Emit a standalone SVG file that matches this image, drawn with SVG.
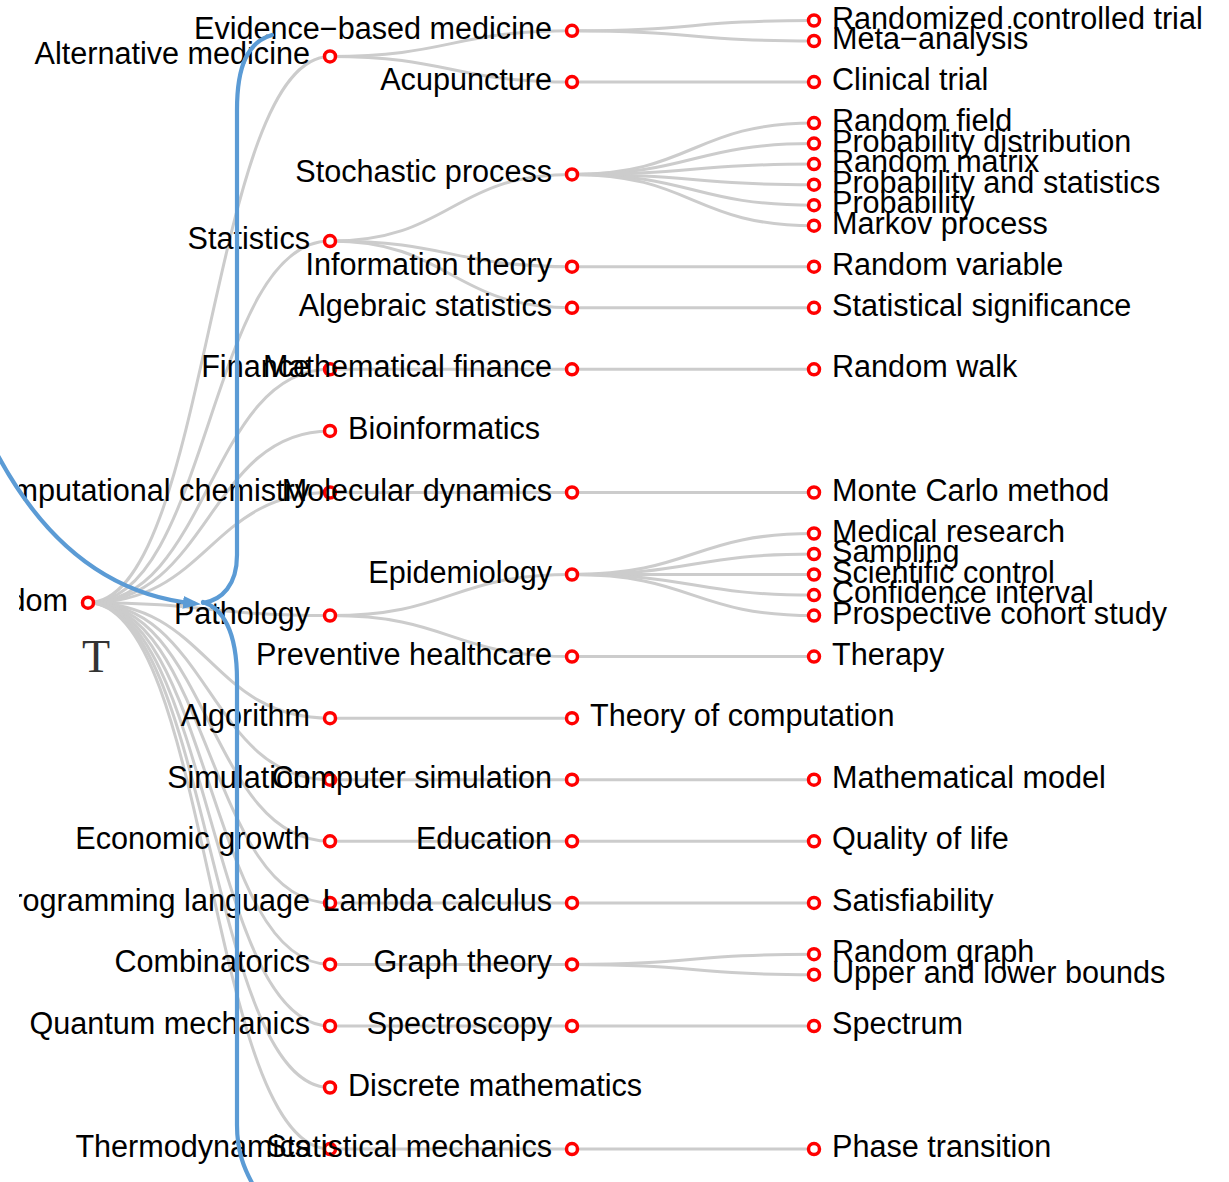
<svg xmlns="http://www.w3.org/2000/svg" width="1229" height="1182" viewBox="0 0 1229 1182">
<style>
.link{fill:none;stroke:#cccccc;stroke-width:3}
.node circle{fill:#ffffff;stroke:#ff0000;stroke-width:3.5}
.node text{font-family:"Liberation Sans",Arial,sans-serif;font-size:30.6px;fill:#000}
.node .l{text-anchor:end}
.node .r{text-anchor:start}
.note{fill:none;stroke:#5b9bd5;stroke-width:4.2;stroke-linecap:round}
</style>
<defs>
<clipPath id="tc"><rect x="19" y="0" width="1210" height="1182"/></clipPath>
<marker id="ah" viewBox="0 0 18 13" refX="11" refY="6.5" markerWidth="18" markerHeight="13" markerUnits="userSpaceOnUse" orient="auto">
<path d="M0,0 L18,6.5 L0,13 z" fill="#5b9bd5"/>
</marker>
</defs>
<rect width="1229" height="1182" fill="#fff"/>
<g clip-path="url(#tc)">
<g id="links">
<path class="link" d="M88,602.7C209,602.7 209,56.4 330,56.4"/>
<path class="link" d="M88,602.7C209,602.7 209,241.1 330,241.1"/>
<path class="link" d="M88,602.7C209,602.7 209,369.3 330,369.3"/>
<path class="link" d="M88,602.7C209,602.7 209,430.9 330,430.9"/>
<path class="link" d="M88,602.7C209,602.7 209,492.5 330,492.5"/>
<path class="link" d="M88,602.7C209,602.7 209,615.6 330,615.6"/>
<path class="link" d="M88,602.7C209,602.7 209,718.2 330,718.2"/>
<path class="link" d="M88,602.7C209,602.7 209,779.7 330,779.7"/>
<path class="link" d="M88,602.7C209,602.7 209,841.3 330,841.3"/>
<path class="link" d="M88,602.7C209,602.7 209,902.9 330,902.9"/>
<path class="link" d="M88,602.7C209,602.7 209,964.4 330,964.4"/>
<path class="link" d="M88,602.7C209,602.7 209,1026 330,1026"/>
<path class="link" d="M88,602.7C209,602.7 209,1087.5 330,1087.5"/>
<path class="link" d="M88,602.7C209,602.7 209,1149.1 330,1149.1"/>
<path class="link" d="M330,56.4C451,56.4 451,30.8 572,30.8"/>
<path class="link" d="M330,56.4C451,56.4 451,82.1 572,82.1"/>
<path class="link" d="M330,241.1C451,241.1 451,174.4 572,174.4"/>
<path class="link" d="M330,241.1C451,241.1 451,266.7 572,266.7"/>
<path class="link" d="M330,241.1C451,241.1 451,307.8 572,307.8"/>
<path class="link" d="M330,369.3C451,369.3 451,369.3 572,369.3"/>
<path class="link" d="M330,492.5C451,492.5 451,492.5 572,492.5"/>
<path class="link" d="M330,615.6C451,615.6 451,574.5 572,574.5"/>
<path class="link" d="M330,615.6C451,615.6 451,656.6 572,656.6"/>
<path class="link" d="M330,718.2C451,718.2 451,718.2 572,718.2"/>
<path class="link" d="M330,779.7C451,779.7 451,779.7 572,779.7"/>
<path class="link" d="M330,841.3C451,841.3 451,841.3 572,841.3"/>
<path class="link" d="M330,902.9C451,902.9 451,902.9 572,902.9"/>
<path class="link" d="M330,964.4C451,964.4 451,964.4 572,964.4"/>
<path class="link" d="M330,1026C451,1026 451,1026 572,1026"/>
<path class="link" d="M330,1149.1C451,1149.1 451,1149.1 572,1149.1"/>
<path class="link" d="M572,30.8C693,30.8 693,20.5 814,20.5"/>
<path class="link" d="M572,30.8C693,30.8 693,41 814,41"/>
<path class="link" d="M572,82.1C693,82.1 693,82.1 814,82.1"/>
<path class="link" d="M572,174.4C693,174.4 693,123.1 814,123.1"/>
<path class="link" d="M572,174.4C693,174.4 693,143.6 814,143.6"/>
<path class="link" d="M572,174.4C693,174.4 693,164.1 814,164.1"/>
<path class="link" d="M572,174.4C693,174.4 693,184.7 814,184.7"/>
<path class="link" d="M572,174.4C693,174.4 693,205.2 814,205.2"/>
<path class="link" d="M572,174.4C693,174.4 693,225.7 814,225.7"/>
<path class="link" d="M572,266.7C693,266.7 693,266.7 814,266.7"/>
<path class="link" d="M572,307.8C693,307.8 693,307.8 814,307.8"/>
<path class="link" d="M572,369.3C693,369.3 693,369.3 814,369.3"/>
<path class="link" d="M572,492.5C693,492.5 693,492.5 814,492.5"/>
<path class="link" d="M572,574.5C693,574.5 693,533.5 814,533.5"/>
<path class="link" d="M572,574.5C693,574.5 693,554 814,554"/>
<path class="link" d="M572,574.5C693,574.5 693,574.5 814,574.5"/>
<path class="link" d="M572,574.5C693,574.5 693,595.1 814,595.1"/>
<path class="link" d="M572,574.5C693,574.5 693,615.6 814,615.6"/>
<path class="link" d="M572,656.6C693,656.6 693,656.6 814,656.6"/>
<path class="link" d="M572,779.7C693,779.7 693,779.7 814,779.7"/>
<path class="link" d="M572,841.3C693,841.3 693,841.3 814,841.3"/>
<path class="link" d="M572,902.9C693,902.9 693,902.9 814,902.9"/>
<path class="link" d="M572,964.4C693,964.4 693,954.2 814,954.2"/>
<path class="link" d="M572,964.4C693,964.4 693,974.7 814,974.7"/>
<path class="link" d="M572,1026C693,1026 693,1026 814,1026"/>
<path class="link" d="M572,1149.1C693,1149.1 693,1149.1 814,1149.1"/>
</g>
<g id="nodes">
<g id="n-random" class="node" transform="translate(88,602.7)"><circle r="5.5"/><text class="l" x="-20" y="8">Random</text></g>
<g id="n-alternative-medicine" class="node" transform="translate(330,56.4)"><circle r="5.5"/><text class="l" x="-20" y="8">Alternative medicine</text></g>
<g id="n-statistics" class="node" transform="translate(330,241.1)"><circle r="5.5"/><text class="l" x="-20" y="8">Statistics</text></g>
<g id="n-finance" class="node" transform="translate(330,369.3)"><circle r="5.5"/><text class="l" x="-20" y="8">Finance</text></g>
<g id="n-bioinformatics" class="node" transform="translate(330,430.9)"><circle r="5.5"/><text class="r" x="18" y="8">Bioinformatics</text></g>
<g id="n-computational-chemistry" class="node" transform="translate(330,492.5)"><circle r="5.5"/><text class="l" x="-20" y="8">Computational chemistry</text></g>
<g id="n-pathology" class="node" transform="translate(330,615.6)"><circle r="5.5"/><text class="l" x="-20" y="8">Pathology</text></g>
<g id="n-algorithm" class="node" transform="translate(330,718.2)"><circle r="5.5"/><text class="l" x="-20" y="8">Algorithm</text></g>
<g id="n-simulation" class="node" transform="translate(330,779.7)"><circle r="5.5"/><text class="l" x="-20" y="8">Simulation</text></g>
<g id="n-economic-growth" class="node" transform="translate(330,841.3)"><circle r="5.5"/><text class="l" x="-20" y="8">Economic growth</text></g>
<g id="n-programming-language" class="node" transform="translate(330,902.9)"><circle r="5.5"/><text class="l" x="-20" y="8">Programming language</text></g>
<g id="n-combinatorics" class="node" transform="translate(330,964.4)"><circle r="5.5"/><text class="l" x="-20" y="8">Combinatorics</text></g>
<g id="n-quantum-mechanics" class="node" transform="translate(330,1026)"><circle r="5.5"/><text class="l" x="-20" y="8">Quantum mechanics</text></g>
<g id="n-discrete-mathematics" class="node" transform="translate(330,1087.5)"><circle r="5.5"/><text class="r" x="18" y="8">Discrete mathematics</text></g>
<g id="n-thermodynamics" class="node" transform="translate(330,1149.1)"><circle r="5.5"/><text class="l" x="-20" y="8">Thermodynamics</text></g>
<g id="n-evidence-based-medicine" class="node" transform="translate(572,30.8)"><circle r="5.5"/><text class="l" x="-20" y="8">Evidence−based medicine</text></g>
<g id="n-acupuncture" class="node" transform="translate(572,82.1)"><circle r="5.5"/><text class="l" x="-20" y="8">Acupuncture</text></g>
<g id="n-stochastic-process" class="node" transform="translate(572,174.4)"><circle r="5.5"/><text class="l" x="-20" y="8">Stochastic process</text></g>
<g id="n-information-theory" class="node" transform="translate(572,266.7)"><circle r="5.5"/><text class="l" x="-20" y="8">Information theory</text></g>
<g id="n-algebraic-statistics" class="node" transform="translate(572,307.8)"><circle r="5.5"/><text class="l" x="-20" y="8">Algebraic statistics</text></g>
<g id="n-mathematical-finance" class="node" transform="translate(572,369.3)"><circle r="5.5"/><text class="l" x="-20" y="8">Mathematical finance</text></g>
<g id="n-molecular-dynamics" class="node" transform="translate(572,492.5)"><circle r="5.5"/><text class="l" x="-20" y="8">Molecular dynamics</text></g>
<g id="n-epidemiology" class="node" transform="translate(572,574.5)"><circle r="5.5"/><text class="l" x="-20" y="8">Epidemiology</text></g>
<g id="n-preventive-healthcare" class="node" transform="translate(572,656.6)"><circle r="5.5"/><text class="l" x="-20" y="8">Preventive healthcare</text></g>
<g id="n-theory-of-computation" class="node" transform="translate(572,718.2)"><circle r="5.5"/><text class="r" x="18" y="8">Theory of computation</text></g>
<g id="n-computer-simulation" class="node" transform="translate(572,779.7)"><circle r="5.5"/><text class="l" x="-20" y="8">Computer simulation</text></g>
<g id="n-education" class="node" transform="translate(572,841.3)"><circle r="5.5"/><text class="l" x="-20" y="8">Education</text></g>
<g id="n-lambda-calculus" class="node" transform="translate(572,902.9)"><circle r="5.5"/><text class="l" x="-20" y="8">Lambda calculus</text></g>
<g id="n-graph-theory" class="node" transform="translate(572,964.4)"><circle r="5.5"/><text class="l" x="-20" y="8">Graph theory</text></g>
<g id="n-spectroscopy" class="node" transform="translate(572,1026)"><circle r="5.5"/><text class="l" x="-20" y="8">Spectroscopy</text></g>
<g id="n-statistical-mechanics" class="node" transform="translate(572,1149.1)"><circle r="5.5"/><text class="l" x="-20" y="8">Statistical mechanics</text></g>
<g id="n-randomized-controlled-trial" class="node" transform="translate(814,20.5)"><circle r="5.5"/><text class="r" x="18" y="8">Randomized controlled trial</text></g>
<g id="n-meta-analysis" class="node" transform="translate(814,41)"><circle r="5.5"/><text class="r" x="18" y="8">Meta−analysis</text></g>
<g id="n-clinical-trial" class="node" transform="translate(814,82.1)"><circle r="5.5"/><text class="r" x="18" y="8">Clinical trial</text></g>
<g id="n-random-field" class="node" transform="translate(814,123.1)"><circle r="5.5"/><text class="r" x="18" y="8">Random field</text></g>
<g id="n-probability-distribution" class="node" transform="translate(814,143.6)"><circle r="5.5"/><text class="r" x="18" y="8">Probability distribution</text></g>
<g id="n-random-matrix" class="node" transform="translate(814,164.1)"><circle r="5.5"/><text class="r" x="18" y="8">Random matrix</text></g>
<g id="n-probability-and-statistics" class="node" transform="translate(814,184.7)"><circle r="5.5"/><text class="r" x="18" y="8">Probability and statistics</text></g>
<g id="n-probability" class="node" transform="translate(814,205.2)"><circle r="5.5"/><text class="r" x="18" y="8">Probability</text></g>
<g id="n-markov-process" class="node" transform="translate(814,225.7)"><circle r="5.5"/><text class="r" x="18" y="8">Markov process</text></g>
<g id="n-random-variable" class="node" transform="translate(814,266.7)"><circle r="5.5"/><text class="r" x="18" y="8">Random variable</text></g>
<g id="n-statistical-significance" class="node" transform="translate(814,307.8)"><circle r="5.5"/><text class="r" x="18" y="8">Statistical significance</text></g>
<g id="n-random-walk" class="node" transform="translate(814,369.3)"><circle r="5.5"/><text class="r" x="18" y="8">Random walk</text></g>
<g id="n-monte-carlo-method" class="node" transform="translate(814,492.5)"><circle r="5.5"/><text class="r" x="18" y="8">Monte Carlo method</text></g>
<g id="n-medical-research" class="node" transform="translate(814,533.5)"><circle r="5.5"/><text class="r" x="18" y="8">Medical research</text></g>
<g id="n-sampling" class="node" transform="translate(814,554)"><circle r="5.5"/><text class="r" x="18" y="8">Sampling</text></g>
<g id="n-scientific-control" class="node" transform="translate(814,574.5)"><circle r="5.5"/><text class="r" x="18" y="8">Scientific control</text></g>
<g id="n-confidence-interval" class="node" transform="translate(814,595.1)"><circle r="5.5"/><text class="r" x="18" y="8">Confidence interval</text></g>
<g id="n-prospective-cohort-study" class="node" transform="translate(814,615.6)"><circle r="5.5"/><text class="r" x="18" y="8">Prospective cohort study</text></g>
<g id="n-therapy" class="node" transform="translate(814,656.6)"><circle r="5.5"/><text class="r" x="18" y="8">Therapy</text></g>
<g id="n-mathematical-model" class="node" transform="translate(814,779.7)"><circle r="5.5"/><text class="r" x="18" y="8">Mathematical model</text></g>
<g id="n-quality-of-life" class="node" transform="translate(814,841.3)"><circle r="5.5"/><text class="r" x="18" y="8">Quality of life</text></g>
<g id="n-satisfiability" class="node" transform="translate(814,902.9)"><circle r="5.5"/><text class="r" x="18" y="8">Satisfiability</text></g>
<g id="n-random-graph" class="node" transform="translate(814,954.2)"><circle r="5.5"/><text class="r" x="18" y="8">Random graph</text></g>
<g id="n-upper-and-lower-bounds" class="node" transform="translate(814,974.7)"><circle r="5.5"/><text class="r" x="18" y="8">Upper and lower bounds</text></g>
<g id="n-spectrum" class="node" transform="translate(814,1026)"><circle r="5.5"/><text class="r" x="18" y="8">Spectrum</text></g>
<g id="n-phase-transition" class="node" transform="translate(814,1149.1)"><circle r="5.5"/><text class="r" x="18" y="8">Phase transition</text></g>
</g>
</g>
<g id="annotation">
<path class="note" d="M272,35 C248,42 237,65 237,110 L237,555 C237,585 222,600 203,603"/>
<path class="note" d="M203,602 C222,608 237,630 237,680 L237,1125 C237,1150 243,1168 256,1190"/>
<path class="note" d="M-15,430 Q60,590 194,603.5" marker-end="url(#ah)"/>
<text x="96" y="672" font-family="'Liberation Serif','Times New Roman',serif" font-size="46" fill="#333" text-anchor="middle">T</text>
</g>
</svg>
